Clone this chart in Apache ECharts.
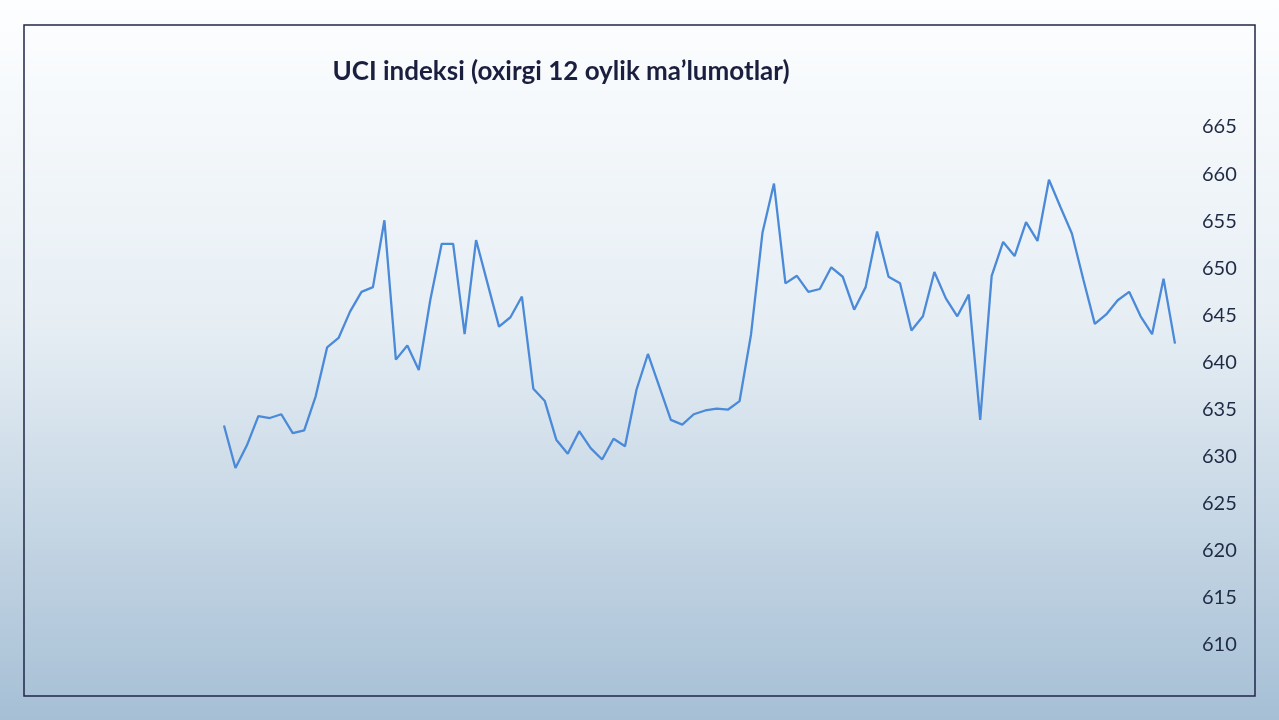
<!DOCTYPE html>
<html>
<head>
<meta charset="utf-8">
<script src="https://cdn.jsdelivr.net/npm/echarts@6/dist/echarts.min.js"></script>
<style>
html,body{margin:0;padding:0;}
#chart{width:1279px;height:720px;}
</style>
</head>
<body>
<div id="chart"></div>
<script>
var titleText = 'UCI indeksi (oxirgi 12 oylik ma\u2019lumotlar)';
var uciValues = [
  633.3, 628.8, 631.2, 634.3, 634.1, 634.5, 632.5, 632.8, 636.4, 641.6,
  642.6, 645.4, 647.5, 648.0, 655.1, 640.3, 641.8, 639.2, 646.6, 652.6,
  652.6, 643.0, 653.0, 648.4, 643.8, 644.8, 647.0, 637.2, 635.9, 631.8,
  630.3, 632.7, 630.9, 629.7, 631.9, 631.1, 637.1, 640.9, 637.4, 633.9,
  633.4, 634.5, 634.9, 635.1, 635.0, 635.9, 643.0, 653.8, 659.0, 648.4,
  649.2, 647.5, 647.8, 650.1, 649.1, 645.6, 648.0, 653.9, 649.1, 648.4,
  643.4, 644.9, 649.6, 646.8, 644.9, 647.2, 633.9, 649.2, 652.8, 651.3,
  654.9, 652.9, 659.4, 656.5, 653.7, 648.8, 644.1, 645.1, 646.6, 647.5,
  644.9, 643.0, 648.9, 642.0
];
var categories = uciValues.map(function (v, i) { return String(i + 1); });
var yTicks = { min: 610, max: 665, step: 5 };

var chart = echarts.init(document.getElementById('chart'));
chart.setOption({
  backgroundColor: {
    type: 'linear', x: 0, y: 0, x2: 0, y2: 1,
    colorStops: [
      { offset: 0, color: '#fdfeff' },
      { offset: 0.45, color: '#e6eef4' },
      { offset: 1, color: '#a6bfd5' }
    ]
  },
  animation: false,
  title: {
    text: titleText,
    left: 556,
    top: 54,
    textAlign: 'center',
    textStyle: {
      fontFamily: 'Lato',
      fontWeight: 'bold',
      fontSize: 26,
      color: '#1b1f3f'
    }
  },
  graphic: [{
    type: 'rect',
    shape: { x: 24, y: 25, width: 1231, height: 671 },
    style: { fill: 'none', stroke: '#1f2747', lineWidth: 1.5 },
    silent: true
  }],
  grid: { left: 224, right: 104, top: 127, bottom: 75 },
  xAxis: {
    type: 'category',
    data: categories,
    boundaryGap: false,
    show: false
  },
  yAxis: {
    type: 'value',
    position: 'right',
    min: yTicks.min,
    max: yTicks.max,
    interval: yTicks.step,
    splitLine: { show: false },
    axisLine: { show: false },
    axisTick: { show: false },
    axisLabel: {
      margin: 27,
      fontFamily: 'Lato',
      fontSize: 20,
      color: '#1f2a44'
    }
  },
  series: [{
    type: 'line',
    data: uciValues,
    showSymbol: false,
    lineStyle: { color: '#4a8ad8', width: 2.3 },
    itemStyle: { color: '#4a8ad8' }
  }]
});
</script>
</body>
</html>
